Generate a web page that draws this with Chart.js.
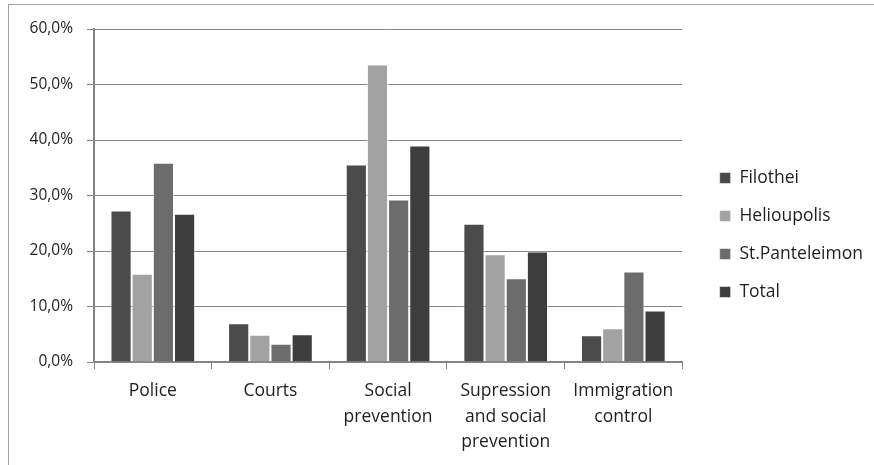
<!DOCTYPE html>
<html>
<head>
<meta charset="utf-8">
<script src="https://cdn.jsdelivr.net/npm/chart.js@4/dist/chart.umd.min.js"></script>
<style>
  html, body { margin: 0; padding: 0; background: #fff; }
  #wrap { position: relative; width: 874px; height: 465px; overflow: hidden; }
  #frame { position: absolute; left: 8px; top: 4px; width: 900px; height: 500px;
           border-top: 1px solid #a0a0a0; border-left: 1px solid #a0a0a0; }
  canvas { position: absolute; left: 0; top: 0; }
</style>
</head>
<body>
<div id="wrap">
  <div id="frame"></div>
  <canvas id="c" width="874" height="465"></canvas>
</div>
<script>
// Categories of crime-control policy, with multi-line axis labels
const categories = [
  ['Police'],
  ['Courts'],
  ['Social', 'prevention'],
  ['Supression', 'and social', 'prevention'],
  ['Immigration', 'control']
];

// Share of respondents (%) per area
const filothei      = [27.3, 7.0, 35.6, 24.9, 4.8];
const helioupolis   = [15.9, 4.9, 53.6, 19.4, 6.1];
const stPanteleimon = [35.9, 3.3, 29.3, 15.1, 16.3];
const total         = [26.7, 5.0, 39.0, 19.9, 9.3];

const yTicks = [0, 10, 20, 30, 40, 50, 60];

const FAMILY = '"Open Sans", "Noto Sans", sans-serif';
const TEXT = '#1e1e1e';
const AXIS = '#858585';

function series(label, data, color) {
  return {
    label, data,
    backgroundColor: color,
    borderColor: 'rgba(255,255,255,0.55)',
    borderWidth: 1,
    barPercentage: 1,
    categoryPercentage: 0.72
  };
}

// empty axis that only reserves space on one side of the plot
function spacer(position, size) {
  return {
    type: 'linear',
    position,
    display: true,
    grid: { display: false, drawTicks: false },
    border: { display: false },
    ticks: { display: false },
    afterFit(scale) {
      if (scale.isHorizontal()) scale.height = size; else scale.width = size;
    }
  };
}

function draw() {
  new Chart(document.getElementById('c'), {
    type: 'bar',
    data: {
      labels: categories,
      datasets: [
        series('Filothei', filothei, '#4b4b4b'),
        series('Helioupolis', helioupolis, '#a2a2a2'),
        series('St.Panteleimon', stPanteleimon, '#6c6c6c'),
        series('Total', total, '#3d3d3d')
      ]
    },
    options: {
      responsive: false,
      animation: false,
      layout: { padding: { top: 5, left: 0, right: 1, bottom: 0 } },
      plugins: {
        tooltip: { enabled: false },
        legend: {
          position: 'right',
          align: 'center',
          maxWidth: 300,
          labels: {
            font: { family: FAMILY, size: 17.5 },
            color: TEXT,
            boxWidth: 11,
            boxHeight: 11,
            padding: 20.5
          }
        }
      },
      scales: {
        x: {
          offset: true,
          grid: {
            offset: true,
            drawOnChartArea: false,
            drawTicks: true,
            tickLength: 7,
            color: AXIS
          },
          border: { color: AXIS, width: 2 },
          ticks: {
            font: { family: FAMILY, size: 17.5, lineHeight: 1.43 },
            color: TEXT,
            padding: 10,
            maxRotation: 0,
            autoSkip: false
          },
          afterFit(scale) { scale.height = 103; }
        },
        y: {
          min: 0,
          max: 60,
          afterBuildTicks(scale) { scale.ticks = yTicks.map(v => ({ value: v })); },
          grid: {
            color: AXIS,
            lineWidth: 1,
            tickLength: 7
          },
          border: { color: AXIS, width: 2 },
          ticks: {
            font: { family: FAMILY, size: 15.5 },
            color: TEXT,
            padding: 14,
            callback: v => v.toFixed(1).replace('.', ',') + '%'
          },
          afterFit(scale) { scale.width = 94; }
        },
        gapTop: spacer('top', 24),
        gapRight: spacer('right', 17)
      }
    }
  });
}

Promise.all([
  document.fonts.load('17.5px "Open Sans"'),
  document.fonts.load('15.5px "Open Sans"')
]).then(draw, draw);
</script>
</body>
</html>
